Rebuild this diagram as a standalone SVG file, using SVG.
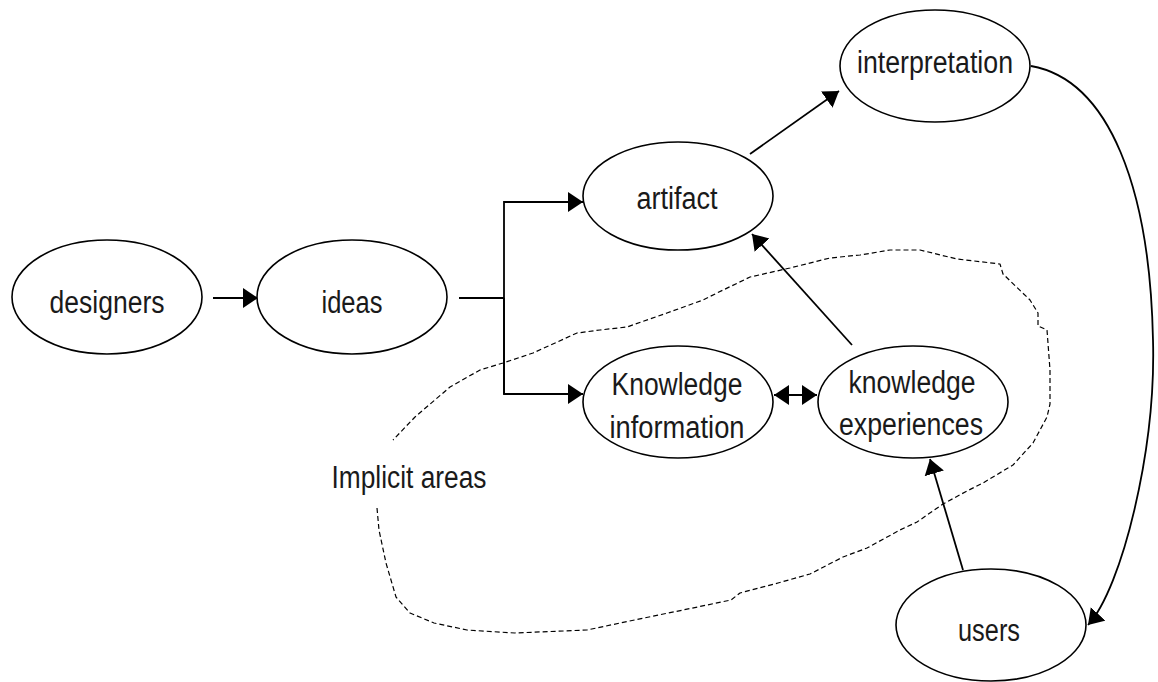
<svg xmlns="http://www.w3.org/2000/svg" width="1158" height="682" viewBox="0 0 1158 682">
  <style>
    .node ellipse { fill: #fff; stroke: #000; stroke-width: 1.6; }
    .node text { font-family: "Liberation Sans", Arial, sans-serif; font-size: 31px; fill: #1a1a1a; text-anchor: middle; }
    .edge { fill: none; stroke: #000; stroke-width: 1.8; }
    .region { fill: none; stroke: #000; stroke-width: 1.2; stroke-dasharray: 5 3; stroke-linejoin: round; }
    .label { font-family: "Liberation Sans", Arial, sans-serif; font-size: 31px; fill: #1a1a1a; text-anchor: middle; }
  </style>
  <defs>
    <marker id="arrow" markerUnits="userSpaceOnUse" markerWidth="18" markerHeight="22" refX="15" refY="10" orient="auto-start-reverse">
      <path d="M0,0 L15,10 L0,20 z" fill="#000"/>
    </marker>
  </defs>
  <rect width="1158" height="682" fill="#fff"/>

  <!-- implicit area boundary -->
  <g id="implicit-area">
    <path class="region" d="M377,508 L379,530 L386,563 L396,597 L410,613 L434,623 L467,630 L515,633 L587,630 L644,618 L683,610 L731,600 L740,593 L778,583 L810,574 L843,557 L867,548 L900,530 L917,522 L943,504 L967,491 L983,483 L1013,465 L1033,443 L1047,417 L1050,404 L1050,370 L1047,330 L1038,326 L1038,313 L1030,300 L1003,274 L1000,264 L957,259 L920,250 L890,250 L860,255 L830,258 L790,268 L750,277 L717,293 L703,300 L667,313 L627,327 L600,330 L577,333 L533,353 L503,363 L480,370 L450,387 L415,417 L393,440"/>
    <text class="label" x="409" y="488" textLength="155" lengthAdjust="spacingAndGlyphs">Implicit areas</text>
  </g>

  <!-- connectors -->
  <g id="connectors">
    <line class="edge" x1="213" y1="298" x2="258" y2="298" marker-end="url(#arrow)"/>
    <polyline class="edge" points="459,298 504,298"/>
    <polyline class="edge" points="504,394 504,202 583,202" marker-end="url(#arrow)"/>
    <polyline class="edge" points="504,298 504,394 583,394" marker-end="url(#arrow)"/>
    <line class="edge" x1="774" y1="395" x2="817" y2="395" marker-start="url(#arrow)" marker-end="url(#arrow)"/>
    <line class="edge" x1="750" y1="154" x2="839" y2="91" marker-end="url(#arrow)"/>
    <line class="edge" x1="852" y1="345" x2="752" y2="234" marker-end="url(#arrow)"/>
    <line class="edge" x1="963" y1="570" x2="930" y2="459" marker-end="url(#arrow)"/>
    <path class="edge" d="M1031,66 C1110,80 1150,190 1153,340 C1156,450 1122,588 1088,625" marker-end="url(#arrow)"/>
  </g>

  <!-- nodes -->
  <g id="designers" class="node">
    <ellipse cx="107" cy="297" rx="95" ry="57"/>
    <text x="107" y="313" textLength="115" lengthAdjust="spacingAndGlyphs">designers</text>
  </g>
  <g id="ideas" class="node">
    <ellipse cx="352" cy="297" rx="95" ry="57"/>
    <text x="352" y="313" textLength="61" lengthAdjust="spacingAndGlyphs">ideas</text>
  </g>
  <g id="artifact" class="node">
    <ellipse cx="678" cy="196" rx="95" ry="54"/>
    <text x="677" y="209" textLength="81" lengthAdjust="spacingAndGlyphs">artifact</text>
  </g>
  <g id="knowledge-information" class="node">
    <ellipse cx="678" cy="402" rx="95" ry="56"/>
    <text x="677" y="395" textLength="131" lengthAdjust="spacingAndGlyphs">Knowledge</text>
    <text x="677" y="438" textLength="135" lengthAdjust="spacingAndGlyphs">information</text>
  </g>
  <g id="knowledge-experiences" class="node">
    <ellipse cx="913" cy="402" rx="95" ry="56"/>
    <text x="912" y="393" textLength="127" lengthAdjust="spacingAndGlyphs">knowledge</text>
    <text x="911" y="435" textLength="144" lengthAdjust="spacingAndGlyphs">experiences</text>
  </g>
  <g id="interpretation" class="node">
    <ellipse cx="935" cy="66" rx="95" ry="56"/>
    <text x="935" y="73" textLength="156" lengthAdjust="spacingAndGlyphs">interpretation</text>
  </g>
  <g id="users" class="node">
    <ellipse cx="991" cy="625" rx="95" ry="56"/>
    <text x="989" y="641" textLength="62" lengthAdjust="spacingAndGlyphs">users</text>
  </g>
</svg>
